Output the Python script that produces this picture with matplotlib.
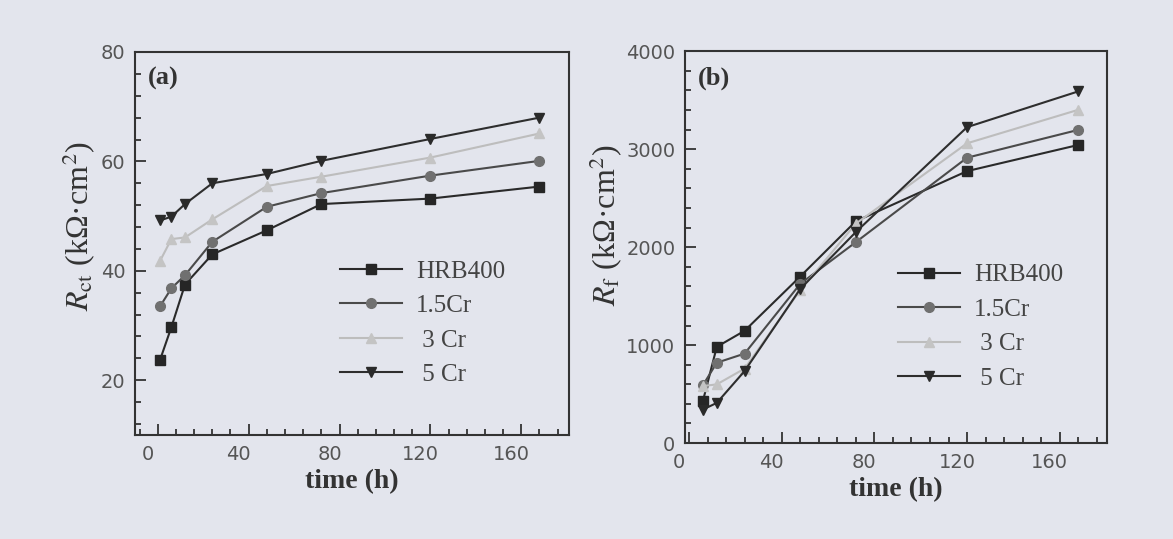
import matplotlib.pyplot as plt
from matplotlib.ticker import MultipleLocator, AutoMinorLocator
from matplotlib.transforms import ScaledTranslation

plt.rcParams['font.family'] = ['Liberation Serif', 'DejaVu Serif']
plt.rcParams['mathtext.fontset'] = 'stix'

# data
labels = ['HRB400', '1.5Cr', ' 3 Cr', ' 5 Cr']

t_a = [1, 6, 12, 24, 48, 72, 120, 168]
rct_hrb = [23.7, 29.7, 37.5, 43.0, 47.4, 52.2, 53.2, 55.4]
rct_15cr = [33.5, 36.8, 39.2, 45.3, 51.7, 54.2, 57.4, 60.1]
rct_3cr = [41.8, 45.8, 46.1, 49.4, 55.5, 57.2, 60.7, 65.1]
rct_5cr = [49.2, 49.9, 52.2, 56.0, 57.7, 60.1, 64.1, 68.0]

t_b = [6, 12, 24, 48, 72, 120, 168]
rf_hrb = [428, 982, 1146, 1700, 2264, 2776, 3043]
rf_15cr = [590, 820, 913, 1625, 2051, 2913, 3197]
rf_3cr = [582, 599, 760, 1560, 2240, 3060, 3402]
rf_5cr = [342, 410, 735, 1573, 2154, 3225, 3590]

bg = '#e3e5ed'
styles = [
    dict(color='#2a2a2a', marker='s', mfc='#262626', mec='#262626'),
    dict(color='#4a4a4a', marker='o', mfc='#707070', mec='#707070'),
    dict(color='#bdbdbd', marker='^', mfc='#c4c4c4', mec='#c4c4c4'),
    dict(color='#2e2e2e', marker='v', mfc='#2a2a2a', mec='#2a2a2a'),
]

fig = plt.figure(figsize=(11.73, 5.39), dpi=100, facecolor=bg)
ax1 = fig.add_axes([0.1151, 0.193, 0.370, 0.7106])
ax2 = fig.add_axes([0.584, 0.178, 0.360, 0.727])

# the x tick labels sit a little left of their ticks in the original
shift = ScaledTranslation(-10 / 100, 0, fig.dpi_scale_trans)


def style_axis(ax):
    ax.set_facecolor(bg)
    for s in ax.spines.values():
        s.set_color('#333333')
        s.set_linewidth(1.5)
    ax.tick_params(which='both', direction='in', top=False, right=False,
                   color='#333333', width=1.3)
    ax.tick_params(which='major', length=8, labelsize=14, labelcolor='#555555',
                   pad=7)
    ax.tick_params(which='minor', length=4.5)
    ax.xaxis.set_major_locator(MultipleLocator(40))
    ax.xaxis.set_minor_locator(AutoMinorLocator(5))
    ax.yaxis.set_minor_locator(AutoMinorLocator(5))
    for lab in ax.get_xticklabels() + ax.get_yticklabels():
        lab.set_family(['DejaVu Sans'])
    for lab in ax.get_xticklabels():
        lab.set_transform(lab.get_transform() + shift)
    ax.set_xlabel('time (h)', fontsize=20, fontweight='bold', color='#333333',
                  labelpad=4)


series_a = [rct_hrb, rct_15cr, rct_3cr, rct_5cr]
for y, st, lab in zip(series_a, styles, labels):
    ax1.plot(t_a, y, lw=1.5, ms=7, label=lab, **st)
ax1.set_xlim(-10, 181)
ax1.set_ylim(10, 80)
ax1.yaxis.set_major_locator(MultipleLocator(20))
style_axis(ax1)
ax1.set_ylabel(r'$R_{\rm ct}$ (kΩ·cm$^2$)', fontsize=23, color='#333333')
ax1.yaxis.set_label_coords(-0.085, 0.546)
ax1.text(0.03, 0.93, '(a)', transform=ax1.transAxes, fontsize=19,
         fontweight='bold', color='#333333', va='center')
ax1.legend(loc='upper left', bbox_to_anchor=(0.42, 0.515), frameon=False,
           fontsize=18, handlelength=2.5, handletextpad=0.55,
           labelspacing=0.48, labelcolor='#444444')

series_b = [rf_hrb, rf_15cr, rf_3cr, rf_5cr]
for y, st, lab in zip(series_b, styles, labels):
    ax2.plot(t_b, y, lw=1.5, ms=7, label=lab, **st)
ax2.set_xlim(-1.7, 180.5)
ax2.set_ylim(0, 4000)
ax2.yaxis.set_major_locator(MultipleLocator(1000))
style_axis(ax2)
ax2.set_ylabel(r'$R_{\rm f}$ (kΩ·cm$^2$)', fontsize=23, color='#333333')
ax2.yaxis.set_label_coords(-0.142, 0.556)
ax2.text(0.03, 0.93, '(b)', transform=ax2.transAxes, fontsize=19,
         fontweight='bold', color='#333333', va='center')
ax2.legend(loc='upper left', bbox_to_anchor=(0.45, 0.515), frameon=False,
           fontsize=18, handlelength=2.5, handletextpad=0.55,
           labelspacing=0.48, labelcolor='#444444')

fig.savefig('out.png', dpi=100, facecolor=bg)
